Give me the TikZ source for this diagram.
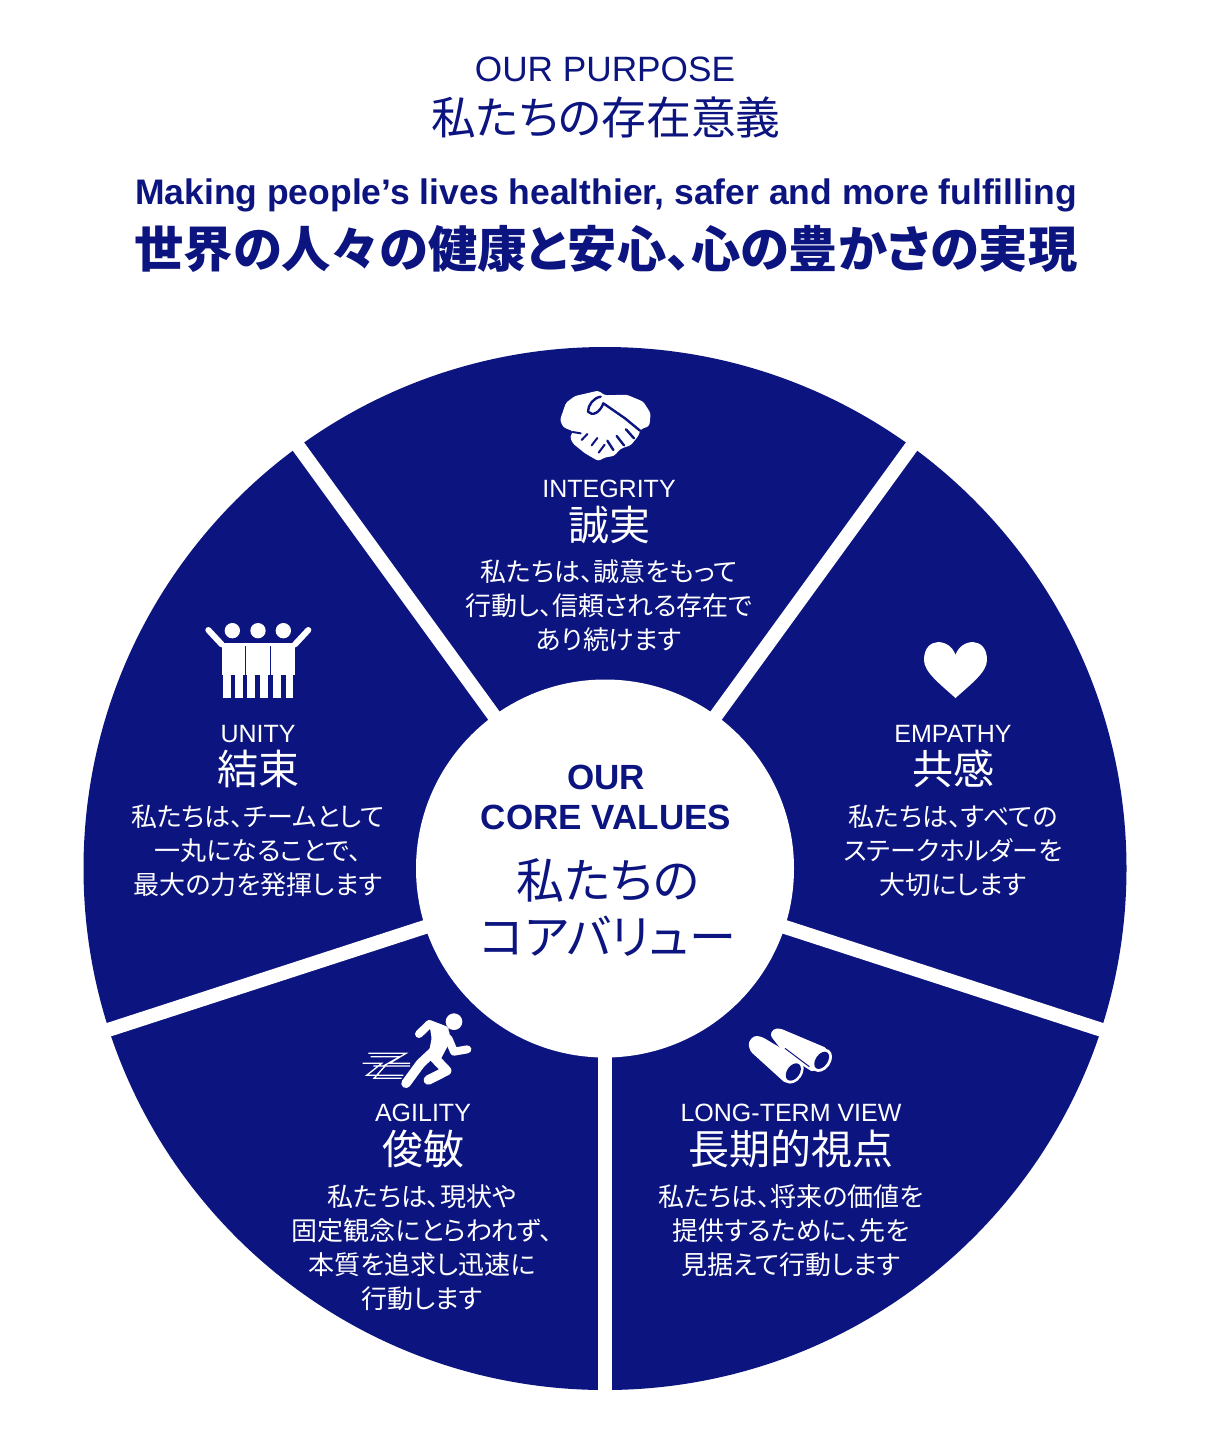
\documentclass[tikz,border=0pt]{standalone}
\usepackage{fontspec}
\usetikzlibrary{calc}
\setmainfont{Liberation Sans}
\newfontfamily\jp[RawFeature={+palt}]{Noto Sans CJK JP}
\definecolor{navy}{HTML}{0C1480}
\newcommand{\fs}[1]{\fontsize{#1}{#1}\selectfont}
\tikzset{
  en/.style={text=navy,inner sep=0pt,font=\fs{#1}},
  enw/.style={text=white,inner sep=0pt,font=\fs{#1}},
  jph/.style={text=navy,inner sep=0pt,font=\jp\fs{#1}},
  jpw/.style={text=white,inner sep=0pt,font=\jp\fs{#1}},
  para/.style={text=white,inner sep=0pt,align=center,font=\jp\fontsize{26}{34}\selectfont},
  spoke/.style={draw=white,line width=14pt},
  ico/.style={fill=white,draw=none},
  icoline/.style={draw=white,line cap=round,line join=round},
  cut/.style={draw=navy,line cap=round,line join=round}
}
\begin{document}
\begin{tikzpicture}[x=1pt,y=-1pt]
\useasboundingbox[fill=white] (0,0) rectangle (1209,1433);
% titles
\node[en=35.2] (t1) at (605,69) {OUR PURPOSE};
\node[jph=44.8] (t2) at (606,117) {私たちの存在意義};
\node[en=35.5] (t3) at (606,195) {\bfseries Making people’s lives healthier, safer and more fulfilling};
\node[jph=49.3] (t4) at (606,249) {\bfseries 世界の人々の健康と安心、心の豊かさの実現};
% wheel
\coordinate (c) at (605,868.5);
\fill[navy] (c) circle (521.5);
\foreach \a/\n in {-126/a,-54/b,18/d,90/e,162/f}{
  \coordinate (s\n) at ($(c)+(\a:540)$);
  \path[spoke] (c) -- (s\n);
}
\fill[white] (c) circle (189);
% centre
\node[en=35] (c1) at (606,777) {\bfseries OUR};
\node[en=35] (c2) at (606,817) {\bfseries CORE VALUES};
\node[jph=48] (c3) at (608,880) {私たちの};
\node[jph=47] (c4) at (608,936) {コアバリュー};
% integrity
\node[enw=25] (i1) at (609,489) {INTEGRITY};
\node[jpw=41] (i2) at (609,525) {誠実};
\node[para] (i3) at (609,606) {私たちは、誠意をもって\\行動し、信頼される存在で\\あり続けます};
% empathy
\node[enw=25] (e1) at (953,734) {EMPATHY};
\node[jpw=41] (e2) at (953,769) {共感};
\node[para] (e3) at (953,851) {私たちは、すべての\\ステークホルダーを\\大切にします};
% long term
\node[enw=25] (l1) at (791,1113) {LONG-TERM VIEW};
\node[jpw=41] (l2) at (791,1149) {長期的視点};
\node[para] (l3) at (791,1231) {私たちは、将来の価値を\\提供するために、先を\\見据えて行動します};
% agility
\node[enw=25] (g1) at (423,1113) {AGILITY};
\node[jpw=41] (g2) at (423,1149) {俊敏};
\node[para] (g3) at (422,1248) {私たちは、現状や\\固定観念にとらわれず、\\本質を追求し迅速に\\行動します};
% unity
\node[enw=25] (u1) at (258,734) {UNITY};
\node[jpw=41] (u2) at (258,769) {結束};
\node[para] (u3) at (258,851) {私たちは、チームとして\\一丸になることで、\\最大の力を発揮します};
% handshake icon
\begin{scope}[shift={(530,370)},scale=1/3]
  \fill[ico,rounded corners=2.5pt] (90,150) -- (108,98) -- (135,78) -- (205,62) -- (225,76) -- (290,74) -- (340,95) -- (362,130) -- (358,168) -- (332,178) -- (325,198) -- (302,226) -- (272,236) -- (252,258) -- (226,262) -- (205,273) -- (165,250) -- (128,220) -- (120,200) -- (130,184) -- (100,172) -- cycle;
  \draw[cut,line width=2.4pt] (212,80) .. controls (190,84) and (174,105) .. (174,125) .. controls (186,140) and (210,128) .. (220,100) -- (285,145) -- (330,182);
  \draw[cut,line width=2.4pt] (288,178) -- (312,205);
  \draw[cut,line width=2.4pt] (260,198) -- (282,226);
  \draw[cut,line width=2.4pt] (232,212) -- (250,240);
  \draw[cut,line width=2pt] (128,186) -- (152,190) (155,210) -- (172,192) (185,226) -- (202,204) (206,248) -- (224,224);
\end{scope}
% unity icon
\begin{scope}[shift={(190,610)},scale=1/3]
  \foreach \x in {127,204,280} \fill[ico] (\x,62) circle (23);
  \fill[ico] (95,100) rectangle (315,195);
  \draw[icoline,line width=6pt] (55,60) -- (95,103) (355,60) -- (315,103);
  \foreach \l/\r in {100/122,135/160,172/195,210/235,250/272,287/310} \fill[ico] (\l,190) rectangle (\r,265);
  \draw[navy,line width=1.2pt] (166,108) -- (166,265) (241,108) -- (241,265);
\end{scope}
% runner icon
\begin{scope}[shift={(350,1000)},scale=1/3]
  \fill[ico] (312,65) circle (25);
  \draw[icoline,line width=8pt] (207,102) -- (238,72) -- (285,90);
  \draw[icoline,line width=8pt] (295,115) -- (312,155) -- (352,148);
  \draw[icoline,line width=9.5pt] (255,150) -- (212,190) -- (168,250);
  \draw[icoline,line width=9.5pt] (250,170) -- (290,212) -- (235,240);
  \fill[ico,rounded corners=1.5pt] (238,72) -- (298,92) -- (300,125) -- (272,178) -- (235,165) -- (245,115) -- cycle;
  \draw[draw=white,line width=1.3pt,line join=miter] (55,160) -- (168,160) -- (118,190) -- (180,190) (62,170) -- (150,170) -- (100,198) -- (180,198) (38,190) -- (95,190) -- (50,226) -- (160,226) (70,198) -- (105,198) -- (72,235) -- (155,235);
\end{scope}
% binoculars icon
\begin{scope}[shift={(730,1015)},scale=1/3]
  \fill[ico,rounded corners=3pt] (120,60) -- (130,42) -- (150,40) -- (292,100) -- (250,172) -- (165,118) -- cycle;
  \fill[ico,rounded corners=3pt] (55,82) -- (72,62) -- (95,65) -- (218,138) -- (168,206) -- (60,108) -- cycle;
  \draw[navy,line width=1pt] (165,100) -- (238,155);
  \fill[ico,rotate around={-35:(190,171)}] (190,171) ellipse (27 and 38);
  \fill[navy,rotate around={-35:(190,171)}] (190,171) ellipse (19 and 29);
  \fill[ico,rotate around={-35:(275,136)}] (275,136) ellipse (27 and 38);
  \fill[navy,rotate around={-35:(275,136)}] (275,136) ellipse (18 and 29);
\end{scope}
% heart icon
\fill[ico] (955.5,698) .. controls (940,684) and (924,672) .. (924,660) .. controls (924,636) and (950,638) .. (955.5,655) .. controls (961,638) and (987,636) .. (987,660) .. controls (987,672) and (971,684) .. (955.5,698) -- cycle;
\end{tikzpicture}
\end{document}
